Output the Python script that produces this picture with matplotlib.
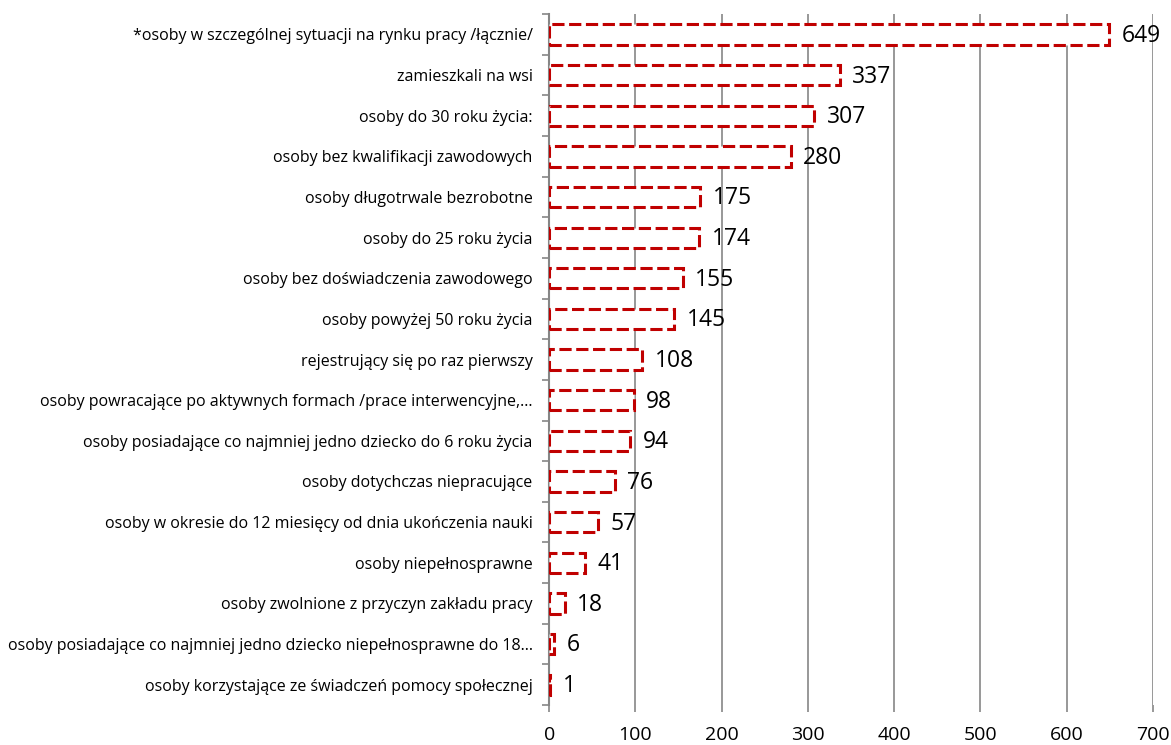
import matplotlib.pyplot as plt
import numpy as np

categories = [
    "*osoby w szczególnej sytuacji na rynku pracy /łącznie/",
    "zamieszkali na wsi",
    "osoby do 30 roku życia:",
    "osoby bez kwalifikacji zawodowych",
    "osoby długotrwale bezrobotne",
    "osoby do 25 roku życia",
    "osoby bez doświadczenia zawodowego",
    "osoby powyżej 50 roku życia",
    "rejestrujący się po raz pierwszy",
    "osoby powracające po aktywnych formach /prace interwencyjne,...",
    "osoby posiadające co najmniej jedno dziecko do 6 roku życia",
    "osoby dotychczas niepracujące",
    "osoby w okresie do 12 miesięcy od dnia ukończenia nauki",
    "osoby niepełnosprawne",
    "osoby zwolnione z przyczyn zakładu pracy",
    "osoby posiadające co najmniej jedno dziecko niepełnosprawne do 18...",
    "osoby korzystające ze świadczeń pomocy społecznej",
]
values = [649, 337, 307, 280, 175, 174, 155, 145, 108, 98, 94, 76, 57, 41, 18, 6, 1]
xticks = [0, 100, 200, 300, 400, 500, 600, 700]

plt.rcParams['font.family'] = ['Open Sans', 'DejaVu Sans']

fig = plt.figure(figsize=(11.71, 7.45), dpi=100)
ax = fig.add_axes([0.469, 0.0537, 0.5156, 0.9273])

n = len(categories)
pos = np.arange(n)[::-1]
ax.barh(pos, values, height=0.5, facecolor='white', edgecolor='#C00000',
        linewidth=2.2, linestyle=(0, (4, 1.5)), zorder=3)

for y, v in zip(pos, values):
    ax.annotate(str(v), xy=(v, y), xytext=(9, -1), textcoords='offset points',
                ha='left', va='center', fontsize=16.5, color='black')

ax.set_xlim(0, 700)
ax.set_ylim(-0.5, n - 0.5)
ax.set_xticks(xticks)
ax.set_xticklabels([str(t) for t in xticks], fontsize=14)
ax.set_yticks(pos)
ax.set_yticklabels(categories, fontsize=11.5)
ax.set_yticks(np.arange(-0.5, n, 1), minor=True)
ax.tick_params(axis='y', which='major', length=0, pad=12)
ax.tick_params(axis='y', which='minor', length=5, color='#868686', width=1.2)
ax.tick_params(axis='x', length=5, color='#868686', width=1.2, pad=10)

ax.grid(axis='x', color='#868686', linewidth=1.2, zorder=0)
for s in ['top', 'right']:
    ax.spines[s].set_visible(False)
ax.spines['left'].set_color('#868686')
ax.spines['left'].set_linewidth(1.5)
ax.spines['bottom'].set_visible(False)

fig.savefig('out.png', dpi=100)
